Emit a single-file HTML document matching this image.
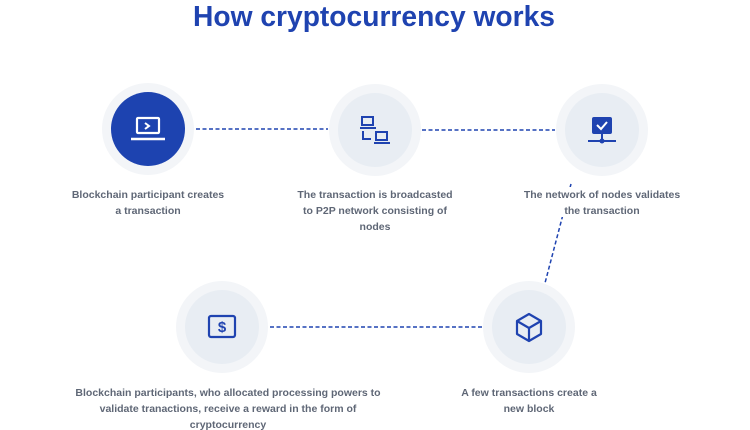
<!DOCTYPE html>
<html><head><meta charset="utf-8"><style>
html,body{margin:0;padding:0;background:#fff;}
svg{display:block;}
text{font-family:"Liberation Sans",sans-serif;}
.l{font-size:10.5px;fill:#5f6776;font-weight:bold;text-anchor:middle;}
</style></head><body>
<svg width="750" height="430" viewBox="0 0 750 430" xmlns="http://www.w3.org/2000/svg">
<text x="374" y="26" text-anchor="middle" font-size="29" font-weight="bold" fill="#1f43b0" textLength="362" lengthAdjust="spacingAndGlyphs">How cryptocurrency works</text>
<g stroke="#1f43b0" stroke-width="1.5" stroke-dasharray="4,2.5" fill="none">
<line x1="196" y1="129" x2="328" y2="129"/>
<line x1="422" y1="130" x2="555" y2="130"/>
<line x1="571" y1="184" x2="545" y2="283"/>
<line x1="270" y1="327" x2="483" y2="327"/>
</g>
<rect x="522" y="187" width="160" height="30" fill="#fff"/>
<g>
<circle cx="148" cy="129" r="46" fill="#f3f5f8"/><circle cx="148" cy="129" r="37" fill="#1d43b0"/>
<circle cx="375" cy="130" r="46" fill="#f3f5f8"/><circle cx="375" cy="130" r="37" fill="#e8edf3"/>
<circle cx="602" cy="130" r="46" fill="#f3f5f8"/><circle cx="602" cy="130" r="37" fill="#e8edf3"/>
<circle cx="222" cy="327" r="46" fill="#f3f5f8"/><circle cx="222" cy="327" r="37" fill="#e8edf3"/>
<circle cx="529" cy="327" r="46" fill="#f3f5f8"/><circle cx="529" cy="327" r="37" fill="#e8edf3"/>
</g>
<g fill="none" stroke="#fff" stroke-width="2.2">
<rect x="137" y="118" width="22" height="15" rx="1"/>
<line x1="131" y1="139" x2="165" y2="139" stroke-width="2.5"/>
<polyline points="145,123 149,126 145,129" stroke-width="2"/>
</g>
<g fill="none" stroke="#1f43b0" stroke-width="2">
<rect x="362" y="117" width="11" height="8"/><line x1="360" y1="128" x2="376" y2="128"/>
<rect x="376" y="132" width="11" height="8"/><line x1="374" y1="143" x2="390" y2="143"/>
<polyline points="363,131 363,139 371,139"/>
</g>
<g>
<rect x="592" y="117" width="20" height="17" rx="2" fill="#1f43b0"/>
<polyline points="597,125 601,129 607,122" fill="none" stroke="#fff" stroke-width="2"/>
<line x1="602" y1="134" x2="602" y2="141" stroke="#1f43b0" stroke-width="2"/>
<line x1="588" y1="141" x2="616" y2="141" stroke="#1f43b0" stroke-width="2"/>
<circle cx="602" cy="141" r="2.5" fill="#1f43b0"/>
</g>
<g>
<rect x="209" y="316" width="26" height="21" rx="2" fill="none" stroke="#1f43b0" stroke-width="2.2"/>
<text x="222" y="332" text-anchor="middle" font-size="15" font-weight="bold" fill="#1f43b0">$</text>
</g>
<g fill="none" stroke="#1f43b0" stroke-width="2.2" stroke-linejoin="round">
<polygon points="529,314 541,321 541,334 529,341 517,334 517,321"/>
<polyline points="517,321 529,328 541,321"/><line x1="529" y1="328" x2="529" y2="341"/>
</g>
<text class="l" x="148" y="198">Blockchain participant creates</text>
<text class="l" x="148" y="214">a transaction</text>
<text class="l" x="375" y="198">The transaction is broadcasted</text>
<text class="l" x="375" y="214">to P2P network consisting of</text>
<text class="l" x="375" y="230">nodes</text>
<text class="l" x="602" y="198">The network of nodes validates</text>
<text class="l" x="602" y="214">the transaction</text>
<text class="l" x="228" y="396">Blockchain participants, who allocated processing powers to</text>
<text class="l" x="228" y="412">validate tranactions, receive a reward in the form of</text>
<text class="l" x="228" y="428">cryptocurrency</text>
<text class="l" x="529" y="396">A few transactions create a</text>
<text class="l" x="529" y="412">new block</text>
</svg>
</body></html>
